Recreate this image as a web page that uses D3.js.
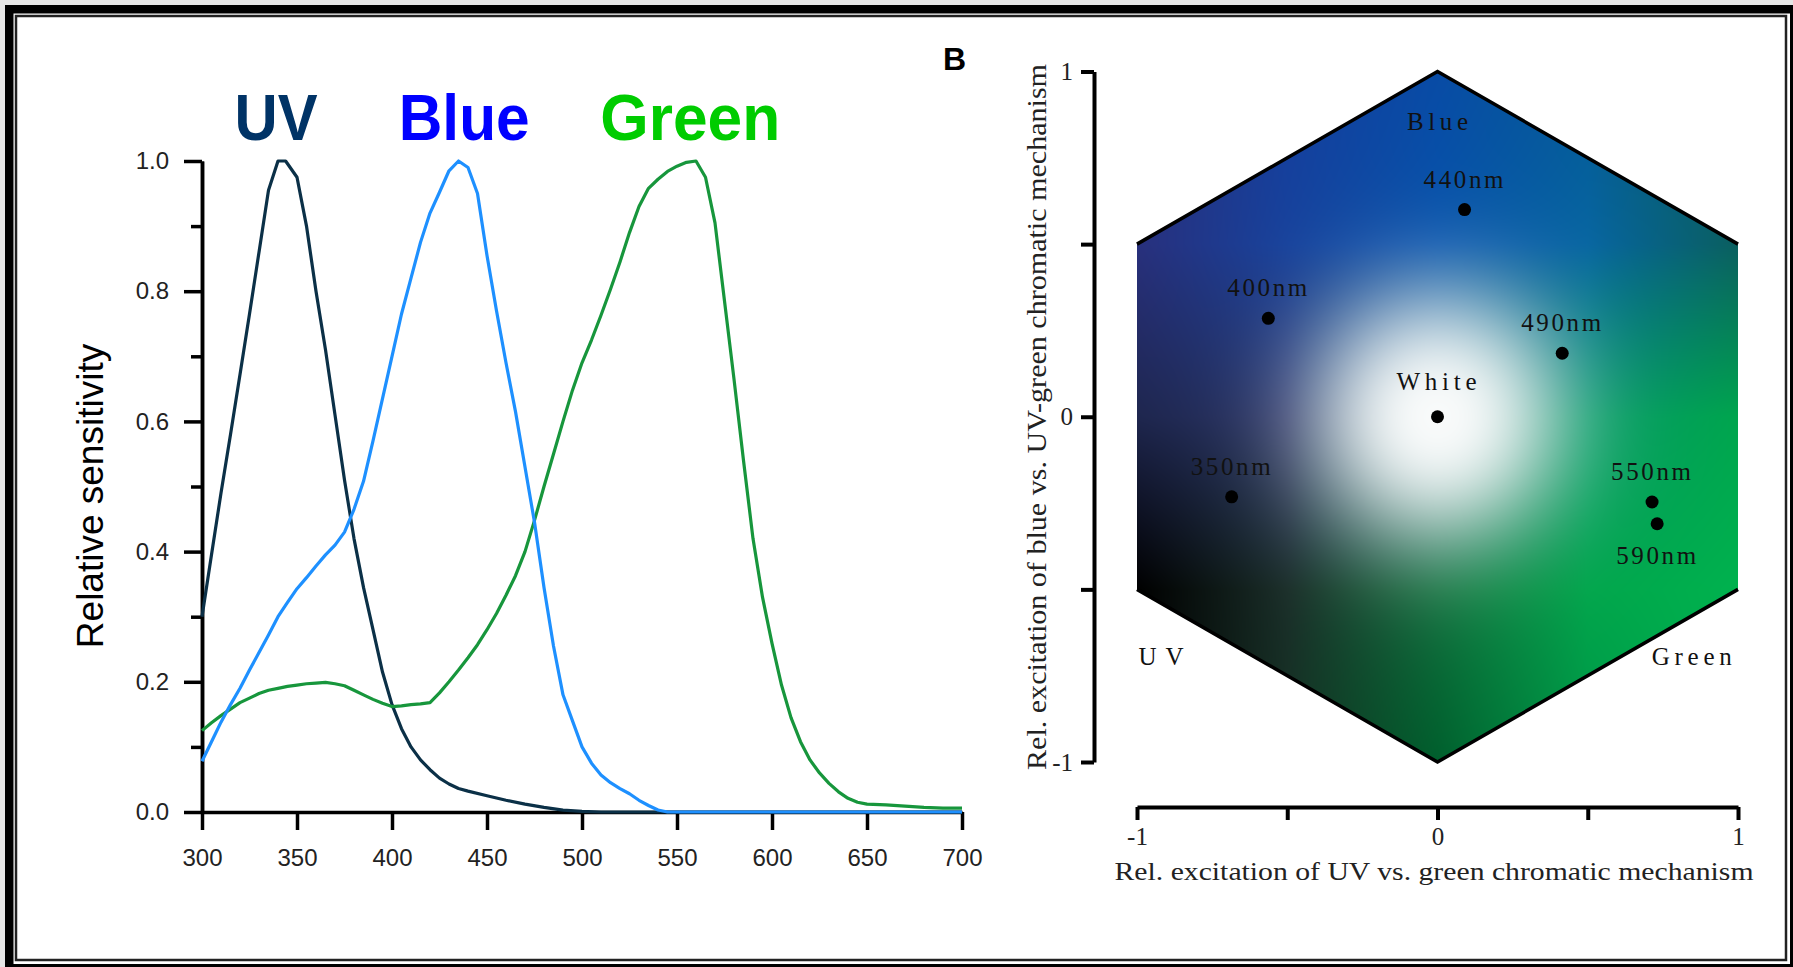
<!DOCTYPE html>
<html>
<head>
<meta charset="utf-8">
<script src="https://cdn.jsdelivr.net/npm/d3@7"></script>
<style>
  body { margin: 0; background: #fff; }
  svg { display: block; }
</style>
</head>
<body>
<script>
const W = 1793;
const H = 967;

// ---- panel A data: relative sensitivity, [wavelength nm, value]
const uvCurve = [[300,0.30],[305,0.395],[310,0.49],[315,0.58],[320,0.672],[325,0.765],[330,0.86],[335,0.955],[340,1.0],[344,1.0],[350,0.975],[355,0.90],[360,0.80],[365,0.71],[370,0.61],[375,0.51],[380,0.42],[385,0.345],[390,0.28],[395,0.215],[400,0.165],[405,0.128],[410,0.10],[415,0.08],[420,0.065],[425,0.052],[430,0.043],[435,0.036],[440,0.032],[450,0.025],[460,0.018],[470,0.012],[480,0.007],[490,0.003],[500,0.001],[510,0],[550,0],[700,0]];
const blueCurve = [[300,0.078],[305,0.108],[310,0.138],[315,0.165],[320,0.19],[325,0.218],[330,0.245],[335,0.272],[340,0.30],[345,0.322],[350,0.343],[355,0.36],[360,0.378],[365,0.395],[370,0.41],[375,0.43],[380,0.465],[385,0.508],[390,0.57],[395,0.635],[400,0.70],[405,0.765],[410,0.82],[415,0.875],[420,0.92],[425,0.952],[430,0.985],[435,1.0],[440,0.99],[445,0.95],[450,0.855],[455,0.77],[460,0.69],[465,0.615],[470,0.53],[475,0.445],[480,0.345],[485,0.255],[490,0.18],[495,0.14],[500,0.10],[505,0.075],[510,0.057],[515,0.045],[520,0.036],[525,0.028],[530,0.018],[535,0.01],[540,0.003],[545,0],[700,0]];
const greenCurve = [[300,0.125],[305,0.137],[310,0.148],[315,0.158],[320,0.168],[325,0.175],[330,0.182],[335,0.187],[340,0.19],[345,0.193],[350,0.195],[355,0.197],[360,0.198],[365,0.199],[370,0.197],[375,0.194],[380,0.187],[385,0.18],[390,0.173],[395,0.167],[400,0.162],[405,0.163],[410,0.165],[415,0.166],[420,0.168],[425,0.183],[430,0.2],[435,0.218],[440,0.237],[445,0.257],[450,0.28],[455,0.305],[460,0.333],[465,0.363],[470,0.40],[475,0.448],[480,0.50],[485,0.55],[490,0.60],[495,0.648],[500,0.69],[505,0.725],[510,0.763],[515,0.803],[520,0.845],[525,0.89],[530,0.93],[535,0.958],[540,0.972],[545,0.984],[550,0.992],[555,0.998],[560,1.0],[565,0.975],[570,0.905],[575,0.785],[580,0.665],[585,0.54],[590,0.42],[595,0.33],[600,0.259],[605,0.195],[610,0.145],[615,0.108],[620,0.08],[625,0.06],[630,0.044],[635,0.031],[640,0.021],[645,0.015],[650,0.012],[660,0.011],[670,0.009],[680,0.007],[690,0.006],[700,0.006]];
const seriesNames = ["UV", "Blue", "Green"];
const seriesLabelNm = [339, 438, 557];
const xTicksA = [300, 350, 400, 450, 500, 550, 600, 650, 700];
const yTicksA = [0, 0.2, 0.4, 0.6, 0.8, 1.0];
const yMinorA = [0.1, 0.3, 0.5, 0.7, 0.9];

// ---- panel B data: colour hexagon
const hexU = [0, 1, 1, 0, -1, -1];
const hexV = [1, 0.5, -0.5, -1, -0.5, 0.5];
const stimNames = ["440nm", "400nm", "490nm", "White", "350nm", "550nm", "590nm"];
const stimU = [0.09, -0.563, 0.415, 0, -0.685, 0.714, 0.731];
const stimV = [0.60, 0.285, 0.184, 0, -0.232, -0.247, -0.31];
const stimBelow = [false, false, false, false, false, false, true];
const cornerNames = ["Blue", "UV", "Green"];
const cornerU = [0, -0.92, 0.846];
const cornerV = [0.83, -0.72, -0.72];
const bTicks = [-1, -0.5, 0, 0.5, 1];

// ---- styles
const curveColors = ["#0b3047", "#1e90ff", "#17963c"];
const titleColors = ["#003366", "#0000ff", "#00cc00"];
const titleWidths = [83, 131, 180];

const svg = d3.select("body").append("svg")
  .attr("width", W)
  .attr("height", H);

// FRAME
svg.append("rect").attr("x", 0).attr("y", 0).attr("width", W).attr("height", 5).attr("fill", "#e6e6e6");
svg.append("rect").attr("x", 0).attr("y", 0).attr("width", 5).attr("height", H).attr("fill", "#e6e6e6");
svg.append("rect").attr("x", 5).attr("y", 5).attr("width", W - 5).attr("height", 8.5).attr("fill", "#000");
svg.append("rect").attr("x", 5).attr("y", 5).attr("width", 8.5).attr("height", H - 5).attr("fill", "#000");
svg.append("rect").attr("x", 1790).attr("y", 5).attr("width", 3).attr("height", H).attr("fill", "#000");
svg.append("rect").attr("x", 5).attr("y", 964).attr("width", W).attr("height", 3).attr("fill", "#000");
svg.append("rect").attr("x", 16).attr("y", 16).attr("width", 1770).attr("height", 944)
  .attr("fill", "none").attr("stroke", "#222").attr("stroke-width", 2.5);

// ================= PANEL A =================
const x = d3.scaleLinear().domain([300, 700]).range([202, 962]);
const y = d3.scaleLinear().domain([0, 1]).range([812, 161]);

const gA = svg.append("g");

const fontA = "'Liberation Sans', Arial, Helvetica, sans-serif";

gA.append("g")
  .attr("transform", `translate(0, ${y(0)})`)
  .call(d3.axisBottom(x).tickValues(xTicksA).tickSize(18).tickSizeOuter(0).tickPadding(19).tickFormat(d3.format("d")));

gA.append("g")
  .attr("transform", `translate(${x(300)}, 0)`)
  .call(d3.axisLeft(y).tickValues(yMinorA).tickSize(11).tickSizeOuter(0).tickFormat(""));

gA.append("g")
  .attr("transform", `translate(${x(300)}, 0)`)
  .call(d3.axisLeft(y).tickValues(yTicksA).tickSize(18).tickSizeOuter(0).tickPadding(15).tickFormat(d3.format(".1f")));

gA.selectAll(".domain, .tick line").attr("stroke", "#000").attr("stroke-width", 3.5);
gA.selectAll(".tick text")
  .attr("font-family", fontA)
  .attr("font-size", 24)
  .attr("fill", "#222");

gA.append("text")
  .attr("transform", `translate(103, 496) rotate(-90)`)
  .attr("text-anchor", "middle")
  .attr("font-family", fontA)
  .attr("font-size", 37)
  .attr("fill", "#000")
  .text("Relative sensitivity");

const line = d3.line()
  .x(d => x(d[0]))
  .y(d => y(d[1]));

// drawing order: UV, Green, Blue
[[uvCurve, 0], [greenCurve, 2], [blueCurve, 1]].forEach(([data, c]) => {
  gA.append("path")
    .datum(data)
    .attr("fill", "none")
    .attr("stroke", curveColors[c])
    .attr("stroke-width", 3.2)
    .attr("stroke-linejoin", "round")
    .attr("d", line);
});

seriesNames.forEach((name, i) => {
  gA.append("text")
    .attr("x", x(seriesLabelNm[i]))
    .attr("y", 140)
    .attr("text-anchor", "middle")
    .attr("font-family", fontA)
    .attr("font-weight", "bold")
    .attr("font-size", 64)
    .attr("textLength", titleWidths[i])
    .attr("lengthAdjust", "spacingAndGlyphs")
    .attr("fill", titleColors[i])
    .text(name);
});

// ================= PANEL B =================
const fontB = "'Liberation Serif', 'Times New Roman', Times, serif";
const xb = d3.scaleLinear().domain([-1, 1]).range([1137, 1738]);
const yb = d3.scaleLinear().domain([-1, 1]).range([762, 71.5]);

const gB = svg.append("g");

gB.append("text")
  .attr("x", 943)
  .attr("y", 70)
  .attr("font-family", fontA)
  .attr("font-weight", "bold")
  .attr("font-size", 32)
  .text("B");

// colour field of the hexagon, sampled on a grid then filled per pixel
const gridU = [-1, -0.5, 0, 0.5, 1];
const gridV = [1, 0.5, 0, -0.5, -1];
const gridRGB = [
  [[40, 48, 125], [20, 62, 158], [8, 75, 165], [5, 90, 150], [10, 95, 95]],
  [[40, 48, 125], [22, 65, 155], [5, 82, 170], [5, 100, 160], [10, 95, 95]],
  [[30, 38, 78], [38, 50, 100], [40, 110, 120], [0, 150, 100], [0, 165, 78]],
  [[0, 0, 0], [25, 45, 40], [15, 110, 60], [0, 165, 75], [0, 178, 78]],
  [[0, 0, 0], [20, 50, 35], [0, 95, 45], [0, 150, 70], [0, 178, 78]]
];

function baseColor(u, v) {
  const fu = Math.max(0, Math.min(3.9999, (u - gridU[0]) / 0.5));
  const fv = Math.max(0, Math.min(3.9999, (gridV[0] - v) / 0.5));
  const i = Math.floor(fu), j = Math.floor(fv);
  const tu = fu - i, tv = fv - j;
  const c00 = gridRGB[j][i], c01 = gridRGB[j][i + 1];
  const c10 = gridRGB[j + 1][i], c11 = gridRGB[j + 1][i + 1];
  return [0, 1, 2].map(k => {
    const top = c00[k] + (c01[k] - c00[k]) * tu;
    const bot = c10[k] + (c11[k] - c10[k]) * tu;
    return top + (bot - top) * tv;
  });
}

const px0 = Math.floor(xb(-1)), px1 = Math.ceil(xb(1));
const py0 = Math.floor(yb(1)), py1 = Math.ceil(yb(-1));
const cw = px1 - px0, ch = py1 - py0;
const canvas = document.createElement("canvas");
canvas.width = cw;
canvas.height = ch;
const ctx = canvas.getContext("2d");
const img = ctx.createImageData(cw, ch);
const cx = xb(0), cy = yb(0);
for (let j = 0; j < ch; j++) {
  for (let i = 0; i < cw; i++) {
    const px = px0 + i + 0.5, py = py0 + j + 0.5;
    const c = baseColor(xb.invert(px), yb.invert(py));
    const r = Math.hypot(px - cx, py - cy);
    const f = Math.exp(-Math.pow(r / 131, 2.5));
    const o = (j * cw + i) * 4;
    img.data[o] = c[0] * (1 - f) + 248 * f;
    img.data[o + 1] = c[1] * (1 - f) + 250 * f;
    img.data[o + 2] = c[2] * (1 - f) + 250 * f;
    img.data[o + 3] = 255;
  }
}
ctx.putImageData(img, 0, 0);

const hexPts = hexU.map((u, i) => [xb(u), yb(hexV[i])]);

svg.append("defs").append("clipPath")
  .attr("id", "hexClip")
  .append("polygon")
  .attr("points", hexPts.map(p => p.join(",")).join(" "));

gB.append("image")
  .attr("x", px0)
  .attr("y", py0)
  .attr("width", cw)
  .attr("height", ch)
  .attr("href", canvas.toDataURL())
  .attr("clip-path", "url(#hexClip)");

// diagonal edges of the hexagon
const edge = d3.line();
gB.append("path")
  .attr("d", edge([hexPts[5], hexPts[0], hexPts[1]]))
  .attr("fill", "none").attr("stroke", "#000").attr("stroke-width", 3.5).attr("stroke-linejoin", "miter");
gB.append("path")
  .attr("d", edge([hexPts[4], hexPts[3], hexPts[2]]))
  .attr("fill", "none").attr("stroke", "#000").attr("stroke-width", 3.5).attr("stroke-linejoin", "miter");

// axes
const fmtB = d => (Number.isInteger(d) ? String(d) : "");

gB.append("g")
  .attr("transform", "translate(1094, 0)")
  .call(d3.axisLeft(yb).tickValues(bTicks).tickSize(13).tickSizeOuter(0).tickPadding(8).tickFormat(fmtB));

gB.append("g")
  .attr("transform", "translate(0, 807)")
  .call(d3.axisBottom(xb).tickValues(bTicks).tickSize(13).tickSizeOuter(0).tickPadding(7).tickFormat(fmtB));

gB.selectAll(".domain, .tick line").attr("stroke", "#000").attr("stroke-width", 4);
gB.selectAll(".tick text")
  .attr("font-family", fontB)
  .attr("font-size", 25)
  .attr("fill", "#222");

gB.append("text")
  .attr("transform", "translate(1046, 417) rotate(-90)")
  .attr("text-anchor", "middle")
  .attr("font-family", fontB)
  .attr("font-size", 27)
  .attr("textLength", 706)
  .attr("lengthAdjust", "spacingAndGlyphs")
  .attr("fill", "#222")
  .text("Rel. excitation of blue vs. UV-green chromatic mechanism");

gB.append("text")
  .attr("x", 1434)
  .attr("y", 880)
  .attr("text-anchor", "middle")
  .attr("font-family", fontB)
  .attr("font-size", 26)
  .attr("textLength", 639)
  .attr("lengthAdjust", "spacingAndGlyphs")
  .attr("fill", "#222")
  .text("Rel. excitation of UV vs. green chromatic mechanism");

// stimulus points
stimNames.forEach((name, i) => {
  const px = xb(stimU[i]), py = yb(stimV[i]);
  gB.append("circle")
    .attr("cx", px)
    .attr("cy", py)
    .attr("r", 6.5)
    .attr("fill", "#000");
  gB.append("text")
    .attr("x", px - 1)
    .attr("y", stimBelow[i] ? py + 40 : py - (name === "White" ? 27 : 22))
    .attr("text-anchor", "middle")
    .attr("font-family", fontB)
    .attr("font-size", 25)
    .attr("textLength", 80)
    .attr("lengthAdjust", "spacing")
    .attr("fill", "#111")
    .text(name);
});

cornerNames.forEach((name, i) => {
  gB.append("text")
    .attr("x", xb(cornerU[i]))
    .attr("y", yb(cornerV[i]))
    .attr("text-anchor", "middle")
    .attr("font-family", fontB)
    .attr("font-size", 25)
    .attr("textLength", [61, 45, 80][i])
    .attr("lengthAdjust", "spacing")
    .attr("fill", "#111")
    .text(name);
});
</script>
</body>
</html>
